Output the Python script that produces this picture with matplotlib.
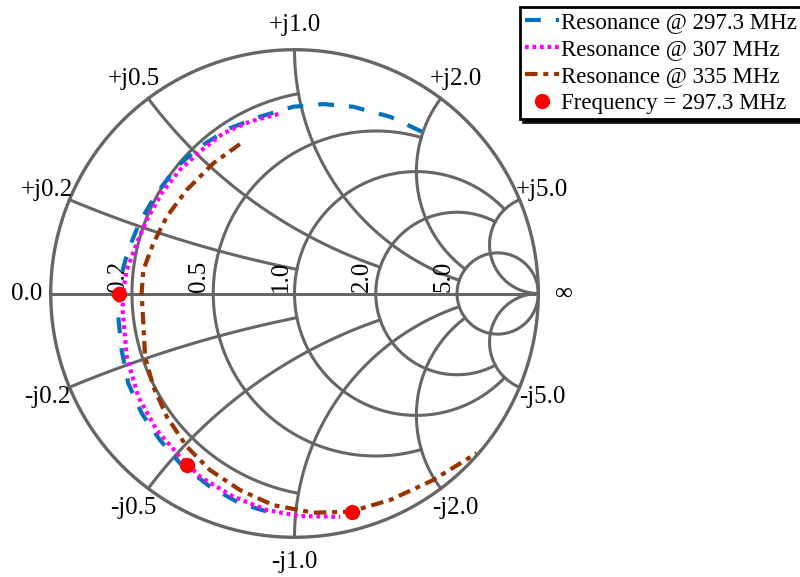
import numpy as np
import matplotlib
matplotlib.use("Agg")
import matplotlib.pyplot as plt

plt.rcParams['font.family'] = ['Liberation Serif', 'DejaVu Serif']

# ---------------- data (reflection coefficient) ----------------
blue_re = [0.522, 0.392, 0.241, 0.118, -0.005, -0.142, -0.265, -0.388, -0.483, -0.565,
           -0.634, -0.682, -0.716, -0.723, -0.709, -0.682, -0.627, -0.552, -0.470, -0.347,
           -0.224, -0.087]
blue_im = [0.664, 0.725, 0.766, 0.777, 0.766, 0.725, 0.678, 0.602, 0.520, 0.411,
           0.295, 0.178, 0.055, -0.095, -0.232, -0.368, -0.491, -0.601, -0.696, -0.792,
           -0.861, -0.902]

mag_re = [-0.066, -0.183, -0.292, -0.388, -0.470, -0.545, -0.606, -0.647, -0.688, -0.702,
          -0.705, -0.688, -0.641, -0.565, -0.470, -0.388, -0.251, -0.114, 0.023, 0.187]
mag_im = [0.736, 0.705, 0.657, 0.582, 0.507, 0.411, 0.301, 0.206, 0.096, 0.014,
          -0.068, -0.259, -0.423, -0.560, -0.669, -0.751, -0.833, -0.888, -0.913, -0.916]

brn_re = [-0.224, -0.333, -0.442, -0.524, -0.579, -0.620, -0.627, -0.620, -0.613, -0.579,
          -0.524, -0.442, -0.347, -0.224, -0.087, 0.077, 0.228, 0.392, 0.569, 0.747]
brn_im = [0.613, 0.534, 0.425, 0.315, 0.206, 0.096, 0.001, -0.122, -0.259, -0.382,
          -0.505, -0.628, -0.724, -0.806, -0.868, -0.899, -0.895, -0.847, -0.765, -0.655]

dot_re = [-0.719, -0.440, 0.235]
dot_im = [0.0, -0.703, -0.895]

labels = ['Resonance @ 297.3 MHz', 'Resonance @ 307 MHz', 'Resonance @ 335 MHz',
          'Frequency = 297.3 MHz']

# grid values
real_vals = [0.2, 0.5, 1.0, 2.0, 5.0]
real_xmax = [1.0, 2.0, 5.0, 5.0, np.inf]
imag_vals = [0.2, 0.5, 1.0, 2.0, 5.0]
imag_rmax = [1.0, 2.0, 5.0, 5.0, np.inf]
real_lbls = ['0.2', '0.5', '1.0', '2.0', '5.0']
imag_lbls = ['0.2', '0.5', '1.0', '2.0', '5.0']

# ---------------- figure ----------------
W, H = 800, 577
fig = plt.figure(figsize=(W / 100, H / 100), dpi=100)
R = 243.8
cx, cy = 294.5, 577 - 293.5
lim = 1.15
ax = fig.add_axes([(cx - lim * R) / W, (cy - lim * R) / H, 2 * lim * R / W, 2 * lim * R / H])
ax.set_xlim(-lim, lim)
ax.set_ylim(-lim, lim)
ax.set_aspect('equal')
ax.axis('off')

gcol = '#666666'
glw = 2.2


def gamma(z):
    return (z - 1) / (z + 1)


def param(vmax, n=600):
    if np.isinf(vmax):
        t = np.linspace(-np.pi / 2 + 1e-4, np.pi / 2 - 1e-4, n)
        return np.tan(t)
    t = np.linspace(-np.arctan(vmax), np.arctan(vmax), n)
    return np.tan(t)


def param_pos(vmax, n=600):
    if np.isinf(vmax):
        t = np.linspace(0, np.pi / 2 - 1e-4, n)
    else:
        t = np.linspace(0, np.arctan(vmax), n)
    return np.tan(t)


# outer circle
th = np.linspace(0, 2 * np.pi, 800)
ax.plot(np.cos(th), np.sin(th), color=gcol, lw=2.4, zorder=1)
# horizontal axis
ax.plot([-1, 1], [0, 0], color=gcol, lw=glw, zorder=1)

for r, xm in zip(real_vals, real_xmax):
    g = gamma(r + 1j * param(xm))
    ax.plot(g.real, g.imag, color=gcol, lw=glw, zorder=1)

for x, rm in zip(imag_vals, imag_rmax):
    rr = param_pos(rm)
    for s in (1, -1):
        g = gamma(rr + 1j * s * x)
        ax.plot(g.real, g.imag, color=gcol, lw=glw, zorder=1)

fs = 18
# real labels
for r, lb in zip(real_vals, real_lbls):
    gl = (r - 1) / (r + 1)
    ax.text(gl - 0.012, 0.006, lb, rotation=90, ha='right', va='bottom', fontsize=fs)

# imaginary labels
for x, lb in zip(imag_vals, imag_lbls):
    for s, pre in ((1, '+j'), (-1, '-j')):
        g = gamma(1j * s * x) * 1.1
        ax.text(g.real, g.imag, pre + lb, ha='center', va='center', fontsize=fs)
ax.text(-1.1, 0, '0.0', ha='center', va='center', fontsize=fs)
ax.text(1.1, 0, '\u221e', ha='center', va='center', fontsize=fs)

# ---------------- curves ----------------
lw = 3.0
l1, = ax.plot(blue_re, blue_im, color='#0072BD', lw=lw, dashes=(3.8, 3.6), zorder=3)
l2, = ax.plot(mag_re, mag_im, color='#FF00FF', lw=lw, dashes=(0.9, 0.9), zorder=3)
l3, = ax.plot(brn_re, brn_im, color='#993300', lw=lw, dashes=(3.0, 1.4, 1.2, 1.4), zorder=3)
l4, = ax.plot(dot_re, dot_im, 'o', color='#FF0000', ms=10, zorder=4, lw=0)

leg = fig.legend([l1, l2, l3, l4], labels, loc='upper left',
                 bbox_to_anchor=(520 / W, 1 - 7 / H), bbox_transform=fig.transFigure,
                 borderaxespad=0, fontsize=16.5, frameon=True, fancybox=False,
                 shadow={'color': 'black', 'alpha': 0.9}, edgecolor='black',
                 handlelength=1.5, handletextpad=0.08, labelspacing=0.27, borderpad=0.2)
leg.get_frame().set_linewidth(2.0)
leg.get_frame().set_alpha(1)

fig.savefig('out.png', dpi=100, facecolor='white')
